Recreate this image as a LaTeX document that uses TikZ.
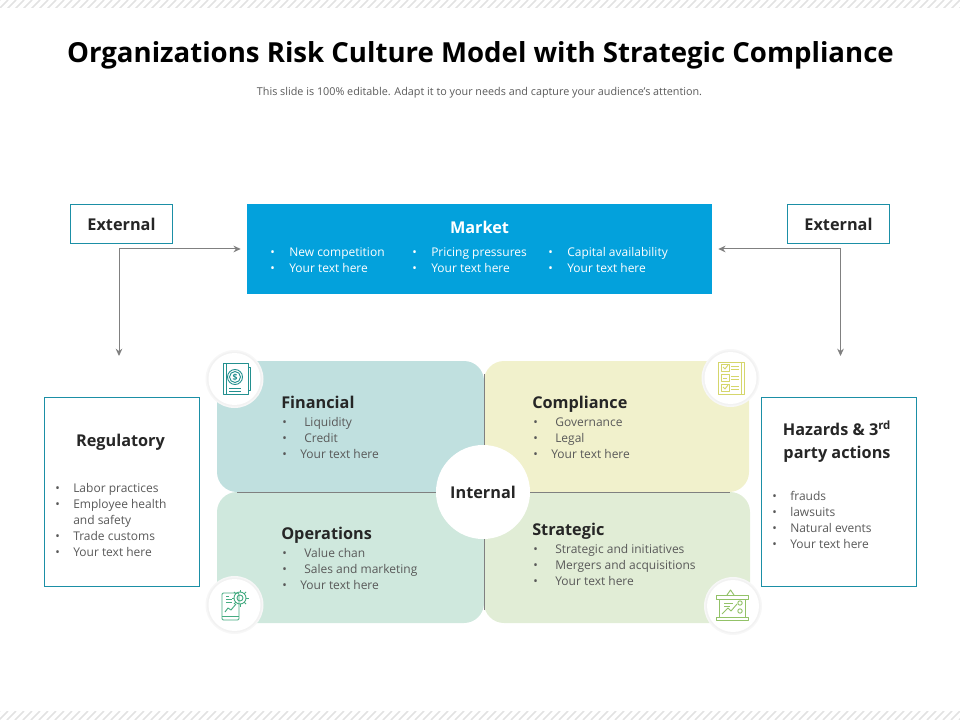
\documentclass[tikz,border=0pt]{standalone}
\usepackage{fontspec}
\setmainfont{Open Sans}
\usetikzlibrary{arrows.meta}
\definecolor{teal1}{HTML}{1B8FA6}
\definecolor{mkt}{HTML}{03A1DC}
\definecolor{qa}{HTML}{C0E0DF}
\definecolor{qb}{HTML}{F1F1CC}
\definecolor{qc}{HTML}{CFE8DD}
\definecolor{qd}{HTML}{E1EDD6}
\definecolor{txt}{HTML}{595959}
\definecolor{head}{HTML}{262626}
\definecolor{ica}{HTML}{23908F}
\definecolor{icb}{HTML}{D5D66C}
\definecolor{icc}{HTML}{45AC82}
\definecolor{icd}{HTML}{93C268}
\definecolor{hatch}{HTML}{E2E2E2}
\tikzset{
  x=0.75pt,y=-0.75pt,
  ext/.style={draw=teal1,line width=0.6pt,fill=white,minimum width=77pt,minimum height=29.7pt,inner sep=0pt,font=\fontsize{12.2}{15}\bfseries\color{head}},
  side/.style={draw=teal1,line width=0.6pt,fill=white,inner sep=0pt,anchor=north west},
  head/.style={anchor=base west,inner sep=0pt,font=\fontsize{12.2}{15}\bfseries\color{head}},
  bodyt/.style={anchor=base west,inner sep=0pt,font=\fontsize{9}{11}\selectfont\color{txt}},
  whitet/.style={anchor=base west,inner sep=0pt,font=\fontsize{9}{11}\selectfont\color{white}},
  link/.style={draw=black!50,line width=0.75pt,{Stealth[length=5.5pt,width=5pt]}-{Stealth[length=5.5pt,width=5pt]}},
  divider/.style={draw=black!50,line width=0.6pt},
  icn/.style={line width=0.7pt,line join=round},
}
\newcommand{\bulletlist}[6]{% name, style, x, y, indent(px), items
  \foreach \t [count=\i from 0] in {#6}
    \node[#2] (#1\i) at (#3,#4+16*\i) {\makebox[0.75\dimexpr #5pt\relax][l]{\textbullet}\t};
}
\newcommand{\badge}[3]{% name, x, y
  \fill[black!3] (#2,#3) circle (29);
  \fill[black!5] (#2,#3) circle (27.5);
  \node[circle,fill=white,minimum size=39pt,inner sep=0pt] (#1) at (#2,#3) {};
}
\newcommand{\quadrant}[7]{% colour, x1,y1,x2,y2, corner x, corner y (square inner corner)
  \fill[#1,rounded corners=15pt] (#2,#3) rectangle (#4,#5);
  \fill[#1] (#6,#7) rectangle (484,492);
}
\begin{document}
\begin{tikzpicture}
\useasboundingbox (0,0) rectangle (960,720);
% hatched bands
\begin{scope}
\clip (0,0) rectangle (960,8) (0,711) rectangle (960,720);
\foreach \k in {0,8,...,984}{
  \draw[hatch,line width=1.1pt] (\k,0) -- (\k-9,9);
  \draw[hatch,line width=1.1pt] (\k,711) -- (\k-9,720);
}
\end{scope}
% title
\node[inner sep=0pt,font=\fontsize{20.7}{25}\bfseries\color{black}] (title) at (480.5,55) {Organizations Risk Culture Model with Strategic Compliance};
\node[inner sep=0pt,font=\fontsize{8.1}{10}\selectfont\color{txt}] (sub) at (479.5,92.5) {This slide is 100\% editable. Adapt it to your needs and capture your audience's attention.};
% top boxes
\node[ext] (extl) at (121.5,224) {External};
\node[ext] (extr) at (838.5,224) {External};
\node[fill=mkt,minimum width=348.75pt,minimum height=67.5pt,inner sep=0pt] (market) at (479.5,249) {};
\node[anchor=base,inner sep=0pt,font=\fontsize{12.2}{15}\bfseries\color{white}] (mtitle) at (479.5,234) {Market};
\bulletlist{ma}{whitet}{270}{257}{19}{New competition,Your text here}
\bulletlist{mb}{whitet}{412}{257}{19}{Pricing pressures,Your text here}
\bulletlist{mc}{whitet}{548}{257}{19}{Capital availability,Your text here}
% side boxes
\node[side,minimum width=116.5pt,minimum height=142pt] (reg) at (44,397) {};
\node[side,minimum width=116pt,minimum height=142pt] (haz) at (761,397) {};
\node[anchor=base,inner sep=0pt,font=\fontsize{12.2}{15}\bfseries\color{head}] (regt) at (120.5,446) {Regulatory};
\bulletlist{ra}{bodyt}{55}{492}{18}{Labor practices,Employee health}
\node[bodyt] (rb) at (73,524) {and safety};
\bulletlist{rc}{bodyt}{55}{540}{18}{Trade customs}
\bulletlist{rd}{bodyt}{55}{556}{18}{Your text here}
\node[align=center,inner sep=0pt,font=\fontsize{12.2}{17.25}\bfseries\color{head}] (hazt) at (837,442) {Hazards \& 3\textsuperscript{rd}\\party actions};
\bulletlist{ha}{bodyt}{772}{500}{18}{frauds,lawsuits,Natural events,Your text here}
% quadrants
\quadrant{qa}{217}{361}{484}{492}{450}{460}
\quadrant{qb}{484}{361}{749}{492}{518}{460}
\quadrant{qc}{217}{492}{484}{623}{450}{524}
\quadrant{qd}{484}{492}{750}{623}{518}{524}
\coordinate (vt) at (484,374);
\coordinate (vb) at (484,610);
\coordinate (hl) at (237,492);
\coordinate (hr) at (730,492);
\draw[divider] (vt) -- (vb);
\draw[divider] (hl) -- (hr);
\node[circle,fill=white,minimum size=70.5pt,inner sep=0pt,font=\fontsize{12.2}{15}\bfseries\color{head}] (internal) at (483,492) {Internal};
% quadrant text
\node[head] (fint) at (281,408) {Financial};
\bulletlist{fa}{bodyt}{282}{426}{22}{Liquidity,Credit}
\bulletlist{fb}{bodyt}{282}{458}{18}{Your text here}
\node[head] (cpt) at (532,408) {Compliance};
\bulletlist{ca}{bodyt}{533}{426}{22}{Governance,Legal}
\bulletlist{cb}{bodyt}{533}{458}{18}{Your text here}
\node[head] (opt) at (281,539) {Operations};
\bulletlist{oa}{bodyt}{282}{557}{22}{Value chan,Sales and marketing}
\bulletlist{ob}{bodyt}{282}{589}{18}{Your text here}
\node[head] (stt) at (532,535) {Strategic};
\bulletlist{sa}{bodyt}{533}{553}{22}{Strategic and initiatives,Mergers and acquisitions,Your text here}
% connectors
\coordinate (al) at (119,356);
\coordinate (ar) at (840.5,356);
\draw[link] ([xshift=-4.5pt]market.west) -| (al);
\draw[link] ([xshift=4.5pt]market.east) -| (ar);
% badges
\badge{bfin}{234.5}{379}
\badge{bcom}{730.5}{378}
\badge{bope}{234.5}{605}
\badge{bstr}{733}{606}
% financial icon
\begin{scope}[icn,draw=ica]
\draw (223,363) rectangle (248,394);
\draw (226,363) -- (226,394);
\draw (248,367) -- (250,367) -- (250,390) -- (248,390);
\draw (235,377) circle (7.5);
\draw (235,377) circle (5.5);
\node[inner sep=0pt,font=\fontsize{6.5}{7}\bfseries\color{ica}] (dollar) at (235,377) {\$};
\draw (229,388) -- (241,388);
\draw (229,391) -- (241,391);
\end{scope}
% compliance icon
\begin{scope}[icn,draw=icb]
\draw (718,362) rectangle (744,394);
\draw (741,362) -- (741,394);
\foreach \yy in {366,376,386}{
  \draw (721,\yy-2) rectangle (729,\yy+5);
  \draw (731,\yy) -- (739,\yy);
  \draw (731,\yy+3) -- (739,\yy+3);
}
\draw (723,367) -- (725,369) -- (728,365);
\draw (723,378) -- (727,378);
\draw (723,387) -- (725,389) -- (728,385);
\end{scope}
% operations icon
\begin{scope}[icn,draw=icc]
\draw[rounded corners=1pt] (222,593) rectangle (239,620);
\draw (222,616) -- (239,616);
\draw (226,596) -- (229,596) (226,599) -- (232,599) (226,602) -- (232,602);
\draw (225,612) -- (228,608) -- (231,610) -- (236,604);
\draw (240,598) circle (3);
\draw (240,598) circle (6);
\foreach \a in {0,45,...,315}{
  \draw (240,598) ++(\a:6) -- ++(\a:2.5);
}
\end{scope}
% strategic icon
\begin{scope}[icn,draw=icd]
\draw (716,595) rectangle (748,599);
\draw (719,599) -- (719,617) (745,599) -- (745,617);
\draw (716,617) rectangle (748,620);
\draw (727,595) -- (730.5,590) -- (734,595);
\draw (722,614) -- (728,608) -- (731,611) -- (737,604);
\draw (724,603) -- (733,603) (724,606) -- (730,606);
\draw (740,603) circle (2.2);
\draw (740,611) circle (2.2);
\end{scope}
\end{tikzpicture}
\end{document}
